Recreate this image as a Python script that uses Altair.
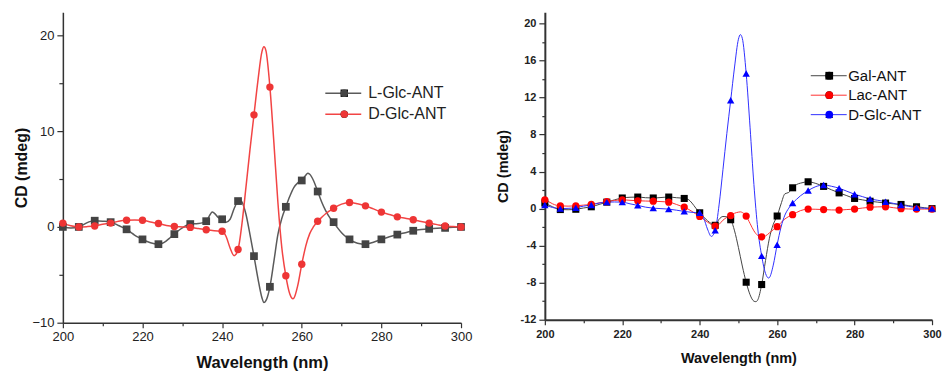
import altair as alt
import pandas as pd

FONT = "Liberation Sans"

# Marker wavelengths (nm)
WL = [200, 204, 208, 212, 216, 220, 224, 228, 232, 236, 240, 244, 248,
      252, 256, 260, 264, 268, 272, 276, 280, 284, 288, 292, 296, 300]

# ---------- left panel ----------
L_NAMES = ["L-Glc-ANT", "D-Glc-ANT"]
LG_MK = [0.0, 0.0, 0.65, 0.5, -0.25, -1.3, -1.8, -0.75, 0.3, 0.6, 0.8, 2.7, -3.05,
         -6.25, 2.1, 4.85, 3.7, 0.5, -1.3, -1.8, -1.3, -0.8, -0.4, -0.2, -0.1, 0.0]
DG_MK = [0.4, 0.0, 0.1, 0.4, 0.7, 0.7, 0.35, 0.05, -0.05, -0.3, -0.45, -2.35, 11.7,
         14.6, -5.1, -3.9, 0.6, 1.95, 2.55, 2.2, 1.55, 1.05, 0.75, 0.4, 0.1, 0.0]

LG_LINE = [(200, 0.0), (202, -0.1), (204, 0.0), (205, 0.2), (206, 0.42), (207, 0.58),
           (208, 0.65), (210, 0.6), (212, 0.5), (213, 0.35), (214, 0.15), (215, -0.05),
           (216, -0.25), (217, -0.55), (218, -0.85), (219, -1.1), (220, -1.3), (221, -1.5),
           (222, -1.65), (223, -1.75), (224, -1.8), (225, -1.7), (226, -1.45), (227, -1.1),
           (228, -0.75), (229, -0.4), (230, -0.1), (231, 0.15), (232, 0.3), (234, 0.35),
           (235, 0.42), (236, 0.6), (237, 1.3), (237.5, 1.55), (238, 1.45), (239, 1.0),
           (240, 0.8), (241, 0.5), (242, 0.8), (243, 1.9), (244, 2.7), (244.5, 2.8),
           (245, 2.6), (246, 1.3), (247, -0.8), (248, -3.05), (249, -5.4), (250, -7.4),
           (250.5, -7.9), (251, -7.7), (252, -6.25), (253, -3.6), (254, -0.8), (255, 0.9),
           (256, 2.1), (257, 3.2), (258, 4.1), (259, 4.6), (260, 4.85), (261, 5.4),
           (261.5, 5.6), (262, 5.5), (263, 4.8), (264, 3.7), (265, 2.6), (266, 1.7),
           (267, 1.0), (268, 0.5), (269, -0.1), (270, -0.6), (271, -1.0), (272, -1.3),
           (273, -1.55), (274, -1.7), (276, -1.8), (278, -1.6), (280, -1.3), (282, -1.02),
           (284, -0.8), (286, -0.6), (288, -0.4), (290, -0.28), (292, -0.2), (294, -0.14),
           (296, -0.1), (298, -0.04), (300, 0.0)]

DG_LINE = [(200, 0.4), (202, 0.12), (204, 0.0), (206, 0.03), (208, 0.1), (210, 0.27),
           (212, 0.4), (214, 0.6), (216, 0.7), (218, 0.72), (220, 0.7), (222, 0.52),
           (224, 0.35), (226, 0.16), (228, 0.05), (230, 0.0), (232, -0.05), (234, -0.17),
           (236, -0.3), (238, -0.4), (240, -0.45), (241, -1.0), (242, -2.2), (243, -3.0),
           (244, -2.35), (245, 0.4), (246, 4.2), (247, 8.1), (248, 11.7), (249, 15.3),
           (250, 18.3), (250.5, 18.8), (251, 18.4), (252, 14.6), (253, 8.8), (254, 2.6),
           (255, -2.2), (256, -5.1), (257, -7.0), (257.8, -7.5), (258, -7.45), (259, -6.1),
           (260, -3.9), (261, -2.0), (262, -0.7), (263, 0.05), (264, 0.6), (265, 1.0),
           (266, 1.38), (267, 1.68), (268, 1.95), (270, 2.38), (272, 2.55), (274, 2.42),
           (276, 2.2), (278, 1.88), (280, 1.55), (282, 1.3), (284, 1.05), (286, 0.9),
           (288, 0.75), (290, 0.57), (292, 0.4), (294, 0.24), (296, 0.1), (298, 0.04),
           (300, 0.0)]

# ---------- right panel ----------
R_NAMES = ["Gal-ANT", "Lac-ANT", "D-Glc-ANT"]
GA_MK = [0.6, -0.1, -0.07, 0.2, 0.7, 1.15, 1.25, 1.15, 1.25, 1.1, -0.45, -1.8, -1.2,
         -7.95, -8.2, -0.8, 2.25, 2.9, 2.4, 1.7, 1.1, 0.8, 0.6, 0.45, 0.2, 0.0]
LA_MK = [0.95, 0.3, 0.3, 0.45, 0.75, 0.95, 0.85, 0.8, 0.7, 0.15, -0.85, -1.9, -0.75,
         -0.8, -3.05, -1.95, -0.65, -0.05, -0.1, -0.15, -0.05, 0.15, 0.2, 0.0, -0.05, -0.05]

GA_LINE = [(200, 0.6), (202, 0.2), (204, -0.1), (206, -0.12), (208, -0.07), (210, 0.07),
           (212, 0.2), (214, 0.45), (216, 0.7), (218, 0.95), (220, 1.15), (222, 1.23),
           (224, 1.25), (226, 1.18), (228, 1.15), (230, 1.2), (232, 1.25), (234, 1.18),
           (236, 1.1), (237, 1.0), (238, 0.6), (239, 0.05), (240, -0.45), (241, -0.9),
           (242, -1.3), (243, -1.62), (244, -1.8), (245, -1.15), (246, -0.85), (247, -0.88),
           (248, -1.2), (249, -2.4), (250, -4.2), (251, -6.2), (252, -7.95), (253, -9.3),
           (254, -10.0), (254.5, -10.05), (255, -9.85), (256, -8.2), (257, -5.6),
           (258, -3.2), (259, -1.7), (260, -0.8), (261, 0.5), (262, 1.6), (263, 1.75),
           (264, 2.25), (265, 2.6), (266, 2.75), (267, 2.85), (268, 2.9), (270, 2.72),
           (272, 2.4), (274, 2.04), (276, 1.7), (278, 1.4), (280, 1.1), (282, 0.95),
           (284, 0.8), (286, 0.7), (288, 0.6), (290, 0.52), (292, 0.45), (294, 0.32),
           (296, 0.2), (298, 0.1), (300, 0.0)]

LA_LINE = [(200, 0.95), (201, 0.75), (202, 0.52), (203, 0.36), (204, 0.3), (206, 0.27),
           (208, 0.3), (210, 0.38), (212, 0.45), (214, 0.62), (216, 0.75), (218, 0.88),
           (220, 0.95), (222, 0.9), (224, 0.85), (226, 0.82), (228, 0.8), (230, 0.76),
           (232, 0.7), (233, 0.6), (234, 0.45), (235, 0.3), (236, 0.15), (237, -0.05),
           (238, -0.3), (239, -0.57), (240, -0.85), (241, -1.15), (242, -1.45), (243, -1.72),
           (244, -1.9), (245, -1.7), (246, -1.25), (247, -0.95), (248, -0.75), (249, -0.5),
           (250, -0.38), (250.5, -0.35), (251, -0.42), (252, -0.8), (253, -1.6), (254, -2.4),
           (255, -2.9), (256, -3.05), (257, -2.95), (258, -2.62), (259, -2.28), (260, -1.95),
           (261, -1.5), (262, -1.12), (263, -0.85), (264, -0.65), (265, -0.42), (266, -0.22),
           (267, -0.1), (268, -0.05), (270, -0.07), (272, -0.1), (274, -0.14), (276, -0.15),
           (278, -0.1), (280, -0.05), (282, 0.06), (284, 0.15), (286, 0.19), (288, 0.2),
           (290, 0.1), (292, 0.0), (294, -0.04), (296, -0.05), (298, -0.05), (300, -0.05)]


def line_frame(pairs, name, key):
    return pd.DataFrame({"wl": [p[0] for p in pairs], "cd": [p[1] for p in pairs], key: name})


def mark_frame(vals, name, key, order):
    return pd.DataFrame({"wl": WL, "cd": vals, key: name, "o": order})


def axis_x(label_size, label_bold, title_size, tick_pad, title_pad, dom_w):
    return alt.Axis(
        values=list(range(200, 301, 10)),
        labelExpr="datum.value % 20 == 0 ? datum.label : ''",
        title="Wavelength (nm)", grid=False,
        tickSize={"condition": {"test": "datum.value % 20 == 0", "value": 5}, "value": 3},
        labelFont=FONT, labelFontSize=label_size,
        labelFontWeight="bold" if label_bold else "normal",
        labelColor="#222", labelPadding=tick_pad, labelFlush=False,
        titleFont=FONT, titleFontSize=title_size, titleFontWeight="bold",
        titleColor="#111", titlePadding=title_pad,
        domainColor="#333", domainWidth=dom_w, tickColor="#333", tickWidth=1.2)


# ---------------- LEFT ----------------
left_lines = pd.concat([line_frame(LG_LINE, L_NAMES[0], "s"),
                        line_frame(DG_LINE, L_NAMES[1], "s")])
left_marks = pd.concat([mark_frame(LG_MK, L_NAMES[0], "sp", 0),
                        mark_frame(DG_MK, L_NAMES[1], "sp", 1)])

xL = alt.X("wl:Q", scale=alt.Scale(domain=[200, 300], nice=False, zero=False),
           axis=axis_x(13, False, 16.5, 3, 11, 1.5))
yL = alt.Y("cd:Q", scale=alt.Scale(domain=[-10, 22.4], nice=False, zero=False),
           axis=alt.Axis(values=[-10, -5, 0, 5, 10, 15, 20],
                         labelExpr="datum.value % 10 == 0 ? datum.label : ''",
                         title="CD (mdeg)", grid=False,
                         tickSize={"condition": {"test": "datum.value % 10 == 0", "value": 6}, "value": 4},
                         labelFont=FONT, labelFontSize=13, labelColor="#222", labelPadding=3,
                         titleFont=FONT, titleFontSize=16, titleFontWeight="bold",
                         titleColor="#111", titlePadding=2,
                         domainColor="#333", domainWidth=1.5, tickColor="#333", tickWidth=1.2))

L_LINE_COLORS = ["#5a5a5a", "#f24444"]
L_MARK_COLORS = ["#444444", "#ee3535"]
L_SIZES = [60, 55]

leftLine = alt.Chart(left_lines).mark_line(strokeWidth=1.5, interpolate="monotone").encode(
    x=xL, y=yL, detail="s:N",
    stroke=alt.Stroke("s:N", scale=alt.Scale(domain=L_NAMES, range=L_LINE_COLORS),
                      legend=alt.Legend(title=None, orient="none", legendX=273, legendY=73,
                                        symbolType="M-4.5,0H4.5", symbolSize=64,
                                        symbolStrokeWidth=1.5, labelFont=FONT,
                                        labelFontSize=16, labelColor="#222",
                                        rowPadding=5, labelOffset=17, padding=0)))

left_pt_legend = alt.Legend(title=None, orient="none", legendX=274, legendY=73,
                            symbolSize=55, symbolStrokeWidth=0, labelFont=FONT,
                            labelFontSize=16, labelOpacity=0, labelExpr="' '",
                            rowPadding=5, labelOffset=4, padding=0)
leftPts = alt.Chart(left_marks).mark_point(filled=True, opacity=1, strokeWidth=0).encode(
    x=xL, y=yL, order="o:Q",
    fill=alt.Fill("sp:N", sort=L_NAMES, scale=alt.Scale(range=L_MARK_COLORS), legend=left_pt_legend),
    shape=alt.Shape("sp:N", sort=L_NAMES, scale=alt.Scale(range=["square", "circle"]),
                    legend=left_pt_legend),
    size=alt.Size("sp:N", sort=L_NAMES, scale=alt.Scale(range=L_SIZES), legend=None))

left = alt.layer(leftLine, leftPts).properties(width=399, height=311)

# ---------------- RIGHT ----------------
right_lines = pd.concat([line_frame(GA_LINE, R_NAMES[0], "r"),
                         line_frame(LA_LINE, R_NAMES[1], "r"),
                         line_frame(DG_LINE, R_NAMES[2], "r")])
right_marks = pd.concat([mark_frame(GA_MK, R_NAMES[0], "rp", 0),
                         mark_frame(LA_MK, R_NAMES[1], "rp", 1),
                         mark_frame(DG_MK, R_NAMES[2], "rp", 2)])

xR = alt.X("wl:Q", scale=alt.Scale(domain=[200, 300], nice=False, zero=False),
           axis=axis_x(11, True, 14.5, 4, 12, 2))
yR = alt.Y("cd:Q", scale=alt.Scale(domain=[-12, 21.2], nice=False, zero=False),
           axis=alt.Axis(values=list(range(-12, 21, 2)),
                         labelExpr="datum.value % 4 == 0 ? replace(datum.label, '\u2212', '-') : ''",
                         title="CD (mdeg)", grid=False,
                         tickSize={"condition": {"test": "datum.value % 4 == 0", "value": 6}, "value": 3},
                         labelFont=FONT, labelFontSize=11, labelFontWeight="bold",
                         labelColor="#222", labelPadding=3,
                         titleFont=FONT, titleFontSize=14.5, titleFontWeight="bold",
                         titleColor="#111", titlePadding=10,
                         domainColor="#333", domainWidth=2, tickColor="#333", tickWidth=1.2))

R_LINE_COLORS = ["#444444", "#ff3030", "#3030ff"]
R_MARK_COLORS = ["#000000", "#ff0000", "#0000ff"]
R_SIZES = [50, 55, 75]

rightLine = alt.Chart(right_lines).mark_line(strokeWidth=1, interpolate="monotone").encode(
    x=xR, y=yR, detail="r:N",
    stroke=alt.Stroke("r:N", scale=alt.Scale(domain=R_NAMES, range=R_LINE_COLORS),
                      legend=alt.Legend(title=None, orient="none", legendX=277, legendY=56,
                                        symbolType="M-4.5,0H4.5", symbolSize=64,
                                        symbolStrokeWidth=1, labelFont=FONT,
                                        labelFontSize=15, labelColor="#111",
                                        rowPadding=3.5, labelOffset=12, padding=0)))

right_pt_legend = alt.Legend(title=None, orient="none", legendX=277.5, legendY=56,
                             symbolSize=60, symbolStrokeWidth=0, labelFont=FONT,
                             labelFontSize=15, labelOpacity=0, labelExpr="' '",
                             rowPadding=3.5, labelOffset=4, padding=0)
rightPts = alt.Chart(right_marks).mark_point(filled=True, opacity=1, strokeWidth=0).encode(
    x=xR, y=yR, order="o:Q",
    fill=alt.Fill("rp:N", sort=R_NAMES, scale=alt.Scale(range=R_MARK_COLORS), legend=right_pt_legend),
    shape=alt.Shape("rp:N", sort=R_NAMES, scale=alt.Scale(range=["square", "circle", "triangle-up"]),
                    legend=right_pt_legend),
    size=alt.Size("rp:N", sort=R_NAMES, scale=alt.Scale(range=R_SIZES), legend=None))

right = alt.layer(rightLine, rightPts).properties(width=388, height=308)

chart = alt.hconcat(left, right, spacing=23).resolve_scale(
    x="independent", y="independent", stroke="independent", fill="independent",
    shape="independent", size="independent"
).resolve_legend(stroke="independent", fill="independent", shape="independent",
                 size="independent").properties(
    padding={"left": 13, "top": 12, "right": 0, "bottom": 0},
    background="white"
).configure_view(stroke=None)

chart.save("out.html", embed_options={"renderer": "svg", "actions": False})
